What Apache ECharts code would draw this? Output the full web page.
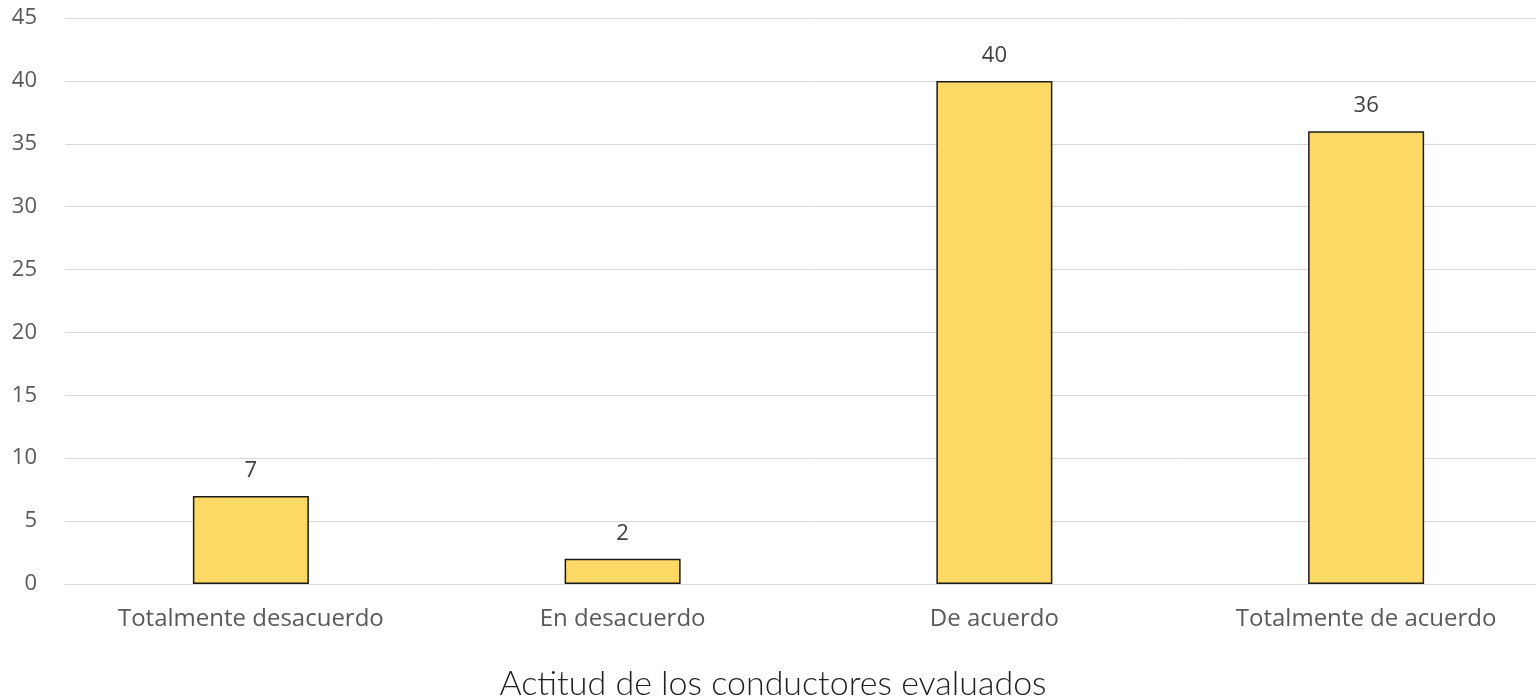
<!DOCTYPE html>
<html><head><meta charset="utf-8">
<script src="https://cdn.jsdelivr.net/npm/echarts@6/dist/echarts.min.js"></script>
<style>html,body{margin:0;padding:0;background:#fff;overflow:hidden}#c{width:1552px;height:698px}</style>
</head><body><div id="c"></div>
<script>
const categories = ["Totalmente desacuerdo", "En desacuerdo", "De acuerdo", "Totalmente de acuerdo"];
const values = [7, 2, 40, 36];
const yTicks = {min: 0, max: 45, interval: 5};
const titleText = "Actitud de los conductores evaluados";

const chart = echarts.init(document.getElementById('c'));
chart.setOption({
  animation: false,
  backgroundColor: '#ffffff',
  title: {
    text: titleText, left: 768, textAlign: 'center', top: 662,
    textStyle: {fontFamily: 'Lato', fontWeight: 300, fontSize: 34, color: '#222'}
  },
  grid: {left: 65, top: 18, right: 0, height: 566, containLabel: false},
  xAxis: {
    type: 'category', data: categories,
    axisLine: {lineStyle: {color: '#d9d9d9', width: 1}},
    axisTick: {show: false},
    axisLabel: {fontFamily: 'Open Sans', fontSize: 24, color: '#595959', margin: 23}
  },
  yAxis: {
    type: 'value', min: yTicks.min, max: yTicks.max, interval: yTicks.interval,
    axisLine: {show: false}, axisTick: {show: false},
    splitLine: {lineStyle: {color: '#d9d9d9', width: 1}},
    axisLabel: {fontFamily: 'Open Sans', fontSize: 22, color: '#595959', margin: 28}
  },
  series: [{
    type: 'bar', data: values, barWidth: 116,
    itemStyle: {color: '#FFD966', borderColor: '#1a1a1a', borderWidth: 1.5},
    label: {show: true, position: 'top', distance: 14, fontFamily: 'Open Sans', fontSize: 22, color: '#404040'}
  }]
});
</script></body></html>
